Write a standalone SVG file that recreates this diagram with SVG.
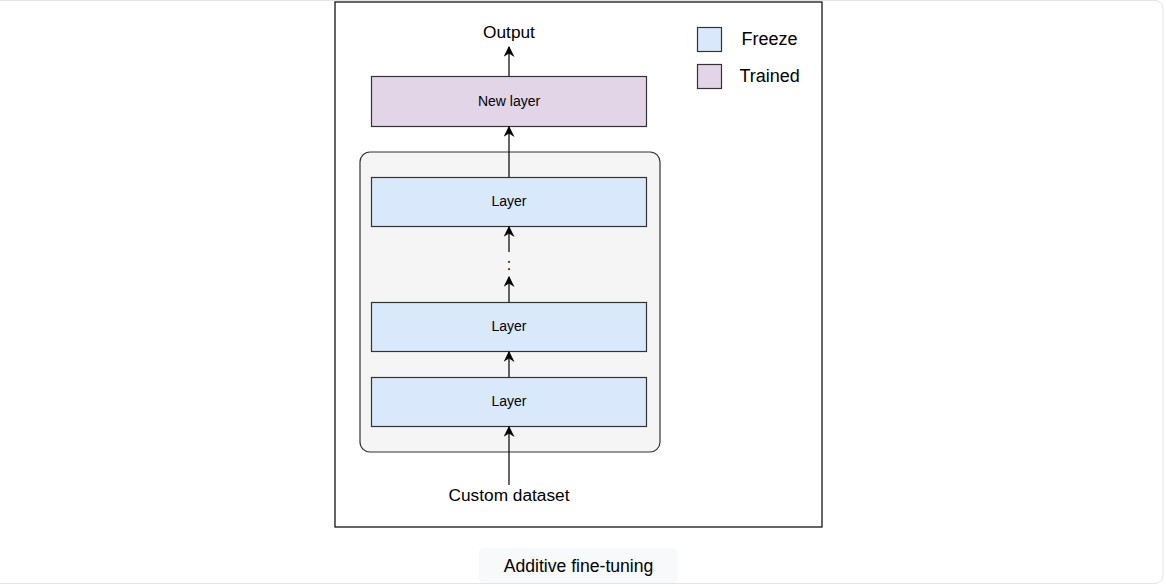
<svg xmlns="http://www.w3.org/2000/svg" width="1166" height="587" viewBox="0 0 1166 587">
<defs>
<marker id="ah" viewBox="0 0 10 10" refX="9" refY="5" markerWidth="11" markerHeight="11" markerUnits="userSpaceOnUse" orient="auto">
<path d="M0,0 L10,5 L0,10 L3,5 Z" fill="#000"/>
</marker>
<style>
text{font-family:"Liberation Sans",Arial,sans-serif;fill:#000}
.lay{fill:#dae8fc;stroke:#333;stroke-width:1.2}
.new{fill:#e1d5e7;stroke:#333;stroke-width:1.2}
.c{stroke:#000;stroke-width:1.2;fill:none;marker-end:url(#ah)}
.t13{font-size:14px;text-anchor:middle}
.t16{font-size:17.3px;text-anchor:middle}
</style>
</defs>
<rect x="-10" y="0.5" width="1173" height="583" rx="8" fill="#fff" stroke="#e3e4e8"/>
<rect x="335" y="2" width="487" height="525" fill="#fff" stroke="#000" stroke-width="1.2"/>
<g id="container"><rect x="360" y="152" width="300" height="300" rx="10" fill="#f5f5f5" stroke="#333" stroke-width="1.2"/></g>
<g id="newlayer"><rect class="new" x="371.5" y="76.5" width="275" height="50"/><text class="t13" x="509" y="106">New layer</text></g>
<g id="layer3"><rect class="lay" x="371.5" y="177.5" width="275" height="49"/><text class="t13" x="509" y="206">Layer</text></g>
<g id="layer2"><rect class="lay" x="371.5" y="302.5" width="275" height="49"/><text class="t13" x="509" y="331">Layer</text></g>
<g id="layer1"><rect class="lay" x="371.5" y="377.5" width="275" height="49"/><text class="t13" x="509" y="406">Layer</text></g>
<g id="output"><text class="t16" x="509" y="38">Output</text></g>
<g id="dataset"><text class="t16" x="509" y="501">Custom dataset</text></g>
<g id="dots"><text x="509" y="270" font-size="16" text-anchor="middle">:</text></g>
<g id="connectors">
<path class="c" d="M509,76 V47"/>
<path class="c" d="M509,177 V127"/>
<path class="c" d="M509,252 V227"/>
<path class="c" d="M509,302 V277"/>
<path class="c" d="M509,377 V352"/>
<path class="c" d="M509,485 V427"/>
</g>
<g id="legend">
<rect x="697.5" y="27.5" width="24" height="24" fill="#dae8fc" stroke="#333" stroke-width="1.2"/>
<text x="741.5" y="45" font-size="18">Freeze</text>
<rect x="697.5" y="64.5" width="24" height="24" fill="#e1d5e7" stroke="#333" stroke-width="1.2"/>
<text x="739.5" y="82" font-size="18">Trained</text>
</g>
<g id="caption">
<rect x="479" y="548" width="199" height="35" rx="5" fill="#f8f9fb"/>
<text x="578.5" y="572" font-size="17.6" text-anchor="middle">Additive fine-tuning</text>
</g>
</svg>
